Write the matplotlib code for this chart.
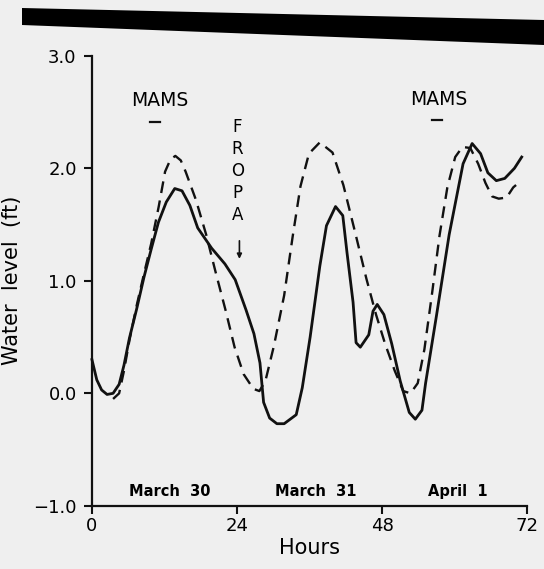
import matplotlib
matplotlib.use("Agg")
import matplotlib.pyplot as plt
from matplotlib.patches import Polygon

# Niveau d'eau observé (trait plein), heures depuis le 30 mars 0h
obs_h = [0.0, 0.8, 1.6, 2.5, 3.5, 4.5, 5.3, 6.2, 7.4, 8.6, 9.8, 11.0, 12.3, 13.7,
         14.9, 16.2, 17.5, 19.8, 22.0, 23.7, 25.5, 26.8, 27.8, 28.4, 29.4, 30.6,
         31.8, 33.8, 34.8, 36.1, 37.7, 38.8, 40.3, 41.5, 42.2, 43.2, 43.7, 44.4,
         45.8, 46.5, 47.2, 48.3, 49.6, 51.0, 52.5, 53.5, 54.6, 55.2, 57.0, 59.1,
         61.4, 62.9, 64.3, 65.5, 66.9, 68.3, 69.9, 71.1]
obs_v = [0.30, 0.12, 0.03, -0.01, 0.00, 0.08, 0.25, 0.49, 0.75, 1.03, 1.28, 1.52,
         1.70, 1.82, 1.80, 1.67, 1.47, 1.29, 1.15, 1.01, 0.74, 0.53, 0.27, -0.08,
         -0.22, -0.27, -0.27, -0.19, 0.05, 0.50, 1.13, 1.49, 1.66, 1.58, 1.25,
         0.81, 0.45, 0.41, 0.52, 0.73, 0.79, 0.70, 0.44, 0.11, -0.17, -0.23, -0.15,
         0.09, 0.69, 1.41, 2.04, 2.22, 2.13, 1.96, 1.89, 1.91, 2.00, 2.10]

# Marée prédite (tirets)
pred_h = [3.5, 4.5, 5.3, 6.2, 7.4, 8.6, 9.8, 11.05, 12.1, 13.0, 13.8, 14.7, 15.5,
          17.2, 18.9, 20.4, 22.1, 23.6, 25.1, 26.7, 27.7, 28.7, 30.1, 31.8, 33.2,
          34.5, 35.9, 37.7, 39.8, 41.6, 43.5, 45.4, 47.0, 48.5, 50.1, 51.5, 52.7,
          53.9, 55.0, 56.3, 57.5, 58.8, 60.1, 61.3, 62.6, 63.9, 65.1, 66.2, 67.3,
          68.6, 69.7, 70.8]
pred_v = [-0.05, 0.00, 0.20, 0.47, 0.78, 1.06, 1.33, 1.66, 1.97, 2.08, 2.11, 2.07,
          1.97, 1.72, 1.41, 1.09, 0.74, 0.41, 0.17, 0.04, 0.02, 0.11, 0.42, 0.87,
          1.39, 1.84, 2.13, 2.23, 2.14, 1.85, 1.44, 1.02, 0.70, 0.44, 0.20, 0.02,
          0.00, 0.09, 0.39, 0.90, 1.40, 1.83, 2.10, 2.19, 2.18, 2.04, 1.87, 1.75,
          1.73, 1.74, 1.83, 1.88]

x_ticks = [0, 24, 48, 72]
y_ticks = [-1.0, 0.0, 1.0, 2.0, 3.0]
y_tick_labels = ["\u22121.0", "0.0", "1.0", "2.0", "3.0"]
jours = ["March  30", "March  31", "April  1"]
jours_h = [12.9, 37.1, 60.6]
mams_h = [11.3, 57.4]
mams_v = [2.60, 2.61]

papier = "#efefef"
encre = "#111111"

fig = plt.figure(figsize=(5.44, 5.69), dpi=100, facecolor=papier)
ax = fig.add_axes([0.169, 0.111, 0.800, 0.791], facecolor=papier)

# Courbes
ax.plot(obs_h, obs_v, color=encre, lw=2.0, solid_joinstyle="round", clip_on=False)
ax.plot(pred_h, pred_v, color=encre, lw=1.7, linestyle=(0, (5, 3.2)), clip_on=False)

# Axes
ax.set_xlim(0, 72)
ax.set_ylim(-1, 3)
for s in ["top", "right"]:
    ax.spines[s].set_visible(False)
for s in ["left", "bottom"]:
    ax.spines[s].set_linewidth(1.6)
    ax.spines[s].set_color(encre)
ax.set_xticks(x_ticks)
ax.set_yticks(y_ticks)
ax.set_yticklabels(y_tick_labels)
ax.tick_params(axis="both", length=6, width=1.5, color=encre, labelsize=13)
ax.tick_params(axis="y", pad=5)
ax.tick_params(axis="x", pad=2)
ax.set_xlabel("Hours", fontsize=15, labelpad=2)
ax.set_ylabel("Water  level  (ft)", fontsize=15, labelpad=8)

# Annotations
for h, v in zip(mams_h, mams_v):
    ax.text(h, v, "MAMS", fontsize=13.5, ha="center", va="center")
ax.plot([9.6, 11.2], [2.41, 2.41], color=encre, lw=1.6)
ax.plot([56.3, 57.9], [2.43, 2.43], color=encre, lw=1.6)
ax.text(24.1, 1.975, "F\nR\nO\nP\nA", fontsize=12, ha="center", va="center",
        linespacing=1.3)
ax.annotate("", xy=(24.4, 1.17), xytext=(24.4, 1.38),
            arrowprops=dict(arrowstyle="-|>", color=encre, lw=1.2,
                            mutation_scale=7))
for h, lab in zip(jours_h, jours):
    ax.text(h, -0.87, lab, fontsize=10.5, fontweight="semibold",
            ha="center", va="center")

# Bande noire du scan en haut
fig.patches.append(Polygon([(22 / 544, 1 - 8 / 569), (1, 1 - 20 / 569),
                            (1, 1 - 45 / 569), (22 / 544, 1 - 25 / 569)],
                           closed=True, facecolor="black", edgecolor="none",
                           transform=fig.transFigure))

fig.savefig("out.png", dpi=100, facecolor=papier)
